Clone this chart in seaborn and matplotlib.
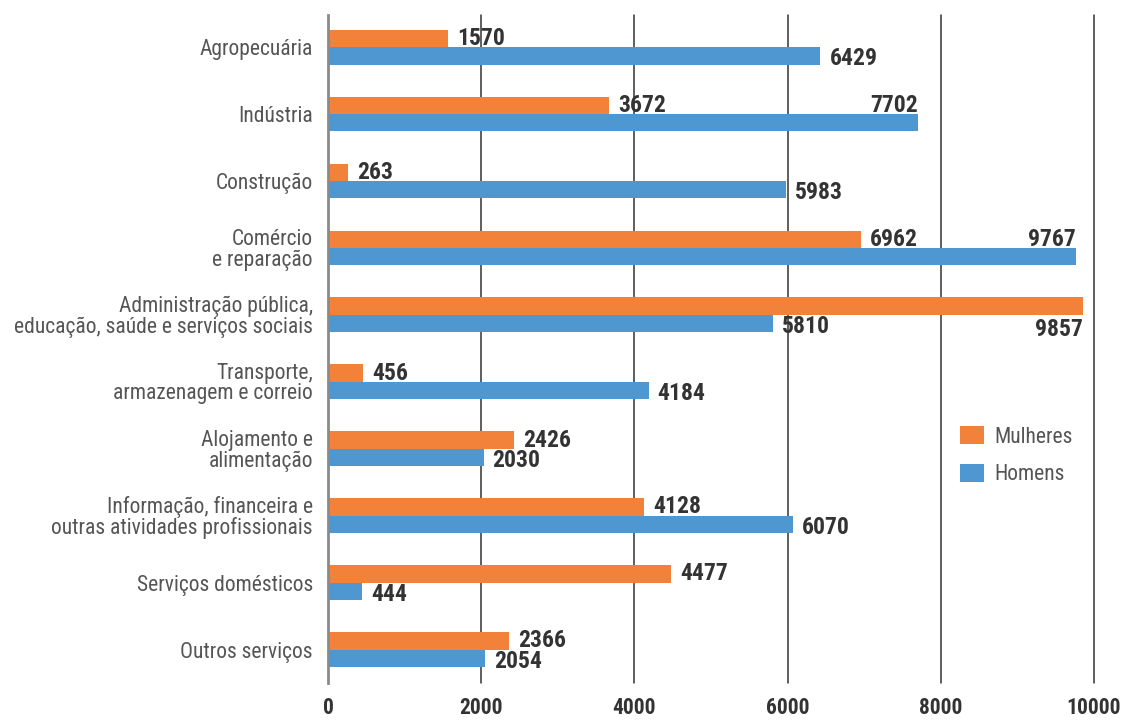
import matplotlib
matplotlib.use("Agg")
import matplotlib.pyplot as plt
from matplotlib import font_manager as fm
import seaborn as sns
import pandas as pd

categorias = [
    "Agropecuária",
    "Indústria",
    "Construção",
    "Comércio\ne reparação",
    "Administração pública,\neducação, saúde e serviços sociais",
    "Transporte,\narmazenagem e correio",
    "Alojamento e\nalimentação",
    "Informação, financeira e\noutras atividades profissionais",
    "Serviços domésticos",
    "Outros serviços",
]
mulheres = [1570, 3672, 263, 6962, 9857, 456, 2426, 4128, 4477, 2366]
homens = [6429, 7702, 5983, 9767, 5810, 4184, 2030, 6070, 444, 2054]
series = ["Mulheres", "Homens"]
x_ticks = [0, 2000, 4000, 6000, 8000, 10000]

df = pd.DataFrame({
    "categoria": categorias * 2,
    "sexo": [series[0]] * len(categorias) + [series[1]] * len(categorias),
    "valor": mulheres + homens,
})

# pick a condensed font if available
entries = [(f.name, f.stretch) for f in fm.fontManager.ttflist]
names = {e[0] for e in entries}
stretch = "normal"
if "Liberation Sans Narrow" in names:
    FAMILY = "Liberation Sans Narrow"
elif "Roboto Condensed" in names:
    FAMILY = "Roboto Condensed"
elif any(n == "DejaVu Sans" and str(s) != "normal" for n, s in entries):
    FAMILY = "DejaVu Sans"
    stretch = "condensed"
else:
    FAMILY = "Liberation Sans"

sns.set_theme(style="white")
plt.rcParams["font.family"] = [FAMILY, "DejaVu Sans"]
plt.rcParams["font.stretch"] = stretch

fig = plt.figure(figsize=(11.23, 7.21), dpi=100)
ax = fig.add_axes([0.2921, 0.0527, 0.9742 - 0.2921, 0.9792 - 0.0527])

palette = {"Mulheres": "#F2823A", "Homens": "#4E97D1"}
sns.barplot(data=df, y="categoria", x="valor", hue="sexo", orient="h",
            order=categorias, hue_order=series, palette=palette,
            width=0.52, linewidth=0, saturation=1, errorbar=None, ax=ax)

ax.set_xlim(0, 10000)
ax.set_ylim(9.5, -0.48)
ax.set_xticks(x_ticks)
ax.set_xticklabels([str(t) for t in x_ticks])
ax.set_xlabel("")
ax.set_ylabel("")
for s in ["top", "right", "bottom"]:
    ax.spines[s].set_visible(False)
ax.spines["left"].set_color("#8a8a8a")
ax.spines["left"].set_linewidth(2)
ax.spines["left"].set_zorder(5)
for t in x_ticks[1:]:
    ax.axvline(t, color="#333333", lw=1.1, zorder=0.5, clip_on=False)

VAL_FS = 17
LAB_FS = 15.5
ax.tick_params(axis="x", length=0, pad=10, labelsize=15.5, labelcolor="#333333")
ax.tick_params(axis="y", length=0, pad=11, labelsize=LAB_FS, labelcolor="#555555")
for lab in ax.get_xticklabels():
    lab.set_fontweight("bold")
for lab in ax.get_yticklabels():
    lab.set_linespacing(0.95)

# Special label placements: (series index, category index) -> position
especiais = {
    (1, 1): "up",
    (1, 3): "up",
    (0, 4): "down",
}
vals = [mulheres, homens]
for si, cont in enumerate(ax.containers):
    for ci, bar in enumerate(cont):
        w = bar.get_width()
        yc = bar.get_y() + bar.get_height() / 2
        h = bar.get_height()
        txt = str(vals[si][ci])
        if (si, ci) in especiais:
            where = especiais[(si, ci)]
            ytxt = yc - h if where == "up" else yc + h * 1.35
            ax.annotate(txt, (w, ytxt), xytext=(0, 0), textcoords="offset points",
                        ha="right", va="center", fontsize=VAL_FS, fontweight="bold",
                        color="#333333", annotation_clip=False)
        else:
            dy = 0 if si == 0 else -2
            ax.annotate(txt, (w, yc), xytext=(6.5, dy), textcoords="offset points",
                        ha="left", va="center", fontsize=VAL_FS, fontweight="bold",
                        color="#333333", annotation_clip=False)

leg = ax.legend(loc="center left", bbox_to_anchor=(0.8, 0.34), frameon=False,
                fontsize=LAB_FS, handlelength=1.1, handleheight=0.9,
                handletextpad=0.5, labelspacing=0.75)
for t in leg.get_texts():
    t.set_color("#555555")

fig.savefig("out.png", dpi=100)
